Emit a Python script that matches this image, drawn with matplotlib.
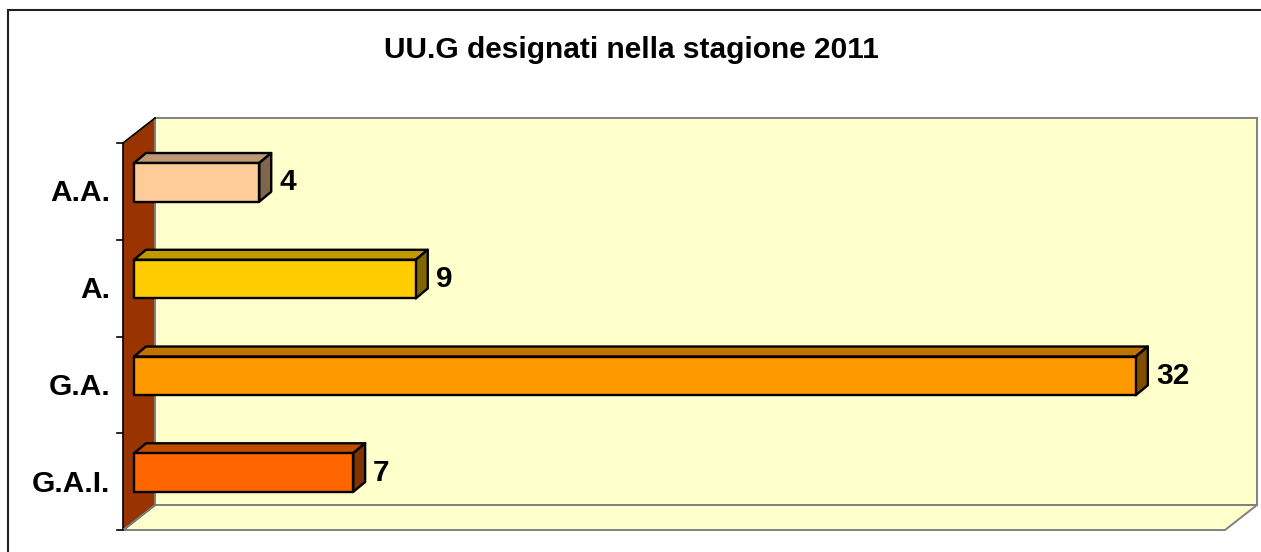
import matplotlib
matplotlib.use('Agg')
import matplotlib.pyplot as plt
from matplotlib.patches import Polygon, Rectangle
from matplotlib.colors import to_rgb

plt.rcParams['font.family'] = ['Liberation Sans', 'DejaVu Sans']

# dati del grafico (dall'alto verso il basso)
categorie = ['A.A.', 'A.', 'G.A.', 'G.A.I.']
valori = [4, 9, 32, 7]
colori = ['#FFCC99', '#FFCC00', '#FF9900', '#FF6600']
titolo = 'UU.G designati nella stagione 2011'

W, H = 1261, 552
fig = plt.figure(figsize=(W / 100, H / 100), dpi=100)
fig.patch.set_facecolor('white')

# piano frontale del grafico 3D (in pixel)
x0, x1, y0, y1 = 123, 1225, 143, 530
ax = fig.add_axes([x0 / W, (H - y1) / H, (x1 - x0) / W, (y1 - y0) / H])
XMAX = 35.2
n = len(categorie)
ax.set_xlim(0, XMAX)
ax.set_ylim(n - 0.5, -0.5)
ax.axis('off')

px_x = (x1 - x0) / XMAX
px_y = (y1 - y0) / n


def dx(p):
    return p / px_x


def dy(p):
    return p / px_y


# profondita' delle pareti e delle barre (pixel)
DX, DY = dx(32), dy(25)
FX, FY = dx(11), dy(9)
BX, BY = dx(23), dy(19)

top, bot = -0.5, n - 0.5
grigio = '#808080'
FS = 21.5
# parete di fondo
ax.add_patch(Polygon([(DX, top - DY), (XMAX + DX, top - DY), (XMAX + DX, bot - DY), (DX, bot - DY)],
                     closed=True, fc='#FFFFCC', ec=grigio, lw=1.4, clip_on=False, zorder=1))
# pavimento
ax.add_patch(Polygon([(0, bot), (XMAX, bot), (XMAX + DX, bot - DY), (DX, bot - DY)],
                     closed=True, fc='#FFFFCC', ec=grigio, lw=1.4, clip_on=False, zorder=1))
# parete laterale
ax.add_patch(Polygon([(0, top), (DX, top - DY), (DX, bot - DY), (0, bot)],
                     closed=True, fc='#993300', ec='none', clip_on=False, zorder=2))
ax.plot([DX, DX], [top - DY, bot - DY], color=grigio, lw=1.4, clip_on=False, zorder=2)
ax.plot([DX, 0, 0, DX], [top - DY, top, bot, bot - DY], color='black', lw=1.2, clip_on=False, zorder=3)
ax.plot([DX, 0], [bot - DY, bot], color=grigio, lw=1.4, clip_on=False, zorder=3)
for k in range(n + 1):
    yt = -0.5 + k
    ax.plot([-dx(6), 0], [yt, yt], color='black', lw=1.2, clip_on=False, zorder=3)

h = 0.2
for i, (cat, v, c) in enumerate(zip(categorie, valori, colori)):
    rgb = to_rgb(c)
    scuro1 = tuple(ch * 0.75 for ch in rgb)
    scuro2 = tuple(ch * 0.5 for ch in rgb)
    yt, yb = i - h, i + h
    front = [(FX, yt - FY), (v + FX, yt - FY), (v + FX, yb - FY), (FX, yb - FY)]
    topf = [(FX, yt - FY), (v + FX, yt - FY), (v + BX, yt - BY), (BX, yt - BY)]
    side = [(v + FX, yt - FY), (v + BX, yt - BY), (v + BX, yb - BY), (v + FX, yb - FY)]
    for poly, col in [(topf, scuro1), (side, scuro2), (front, rgb)]:
        ax.add_patch(Polygon(poly, closed=True, fc=col, ec='black', lw=1.7,
                             joinstyle='round', clip_on=False, zorder=5))
    ax.text(v + BX + dx(8), i - FY, str(v), ha='left', va='center',
            fontsize=FS, fontweight='bold', zorder=6)
    ax.text(-dx(13), i + dy(2), cat, ha='right', va='center',
            fontsize=FS, fontweight='bold', zorder=6)

fig.text(631 / W, 1 - 50 / H, titolo, ha='center', va='center',
         fontsize=FS, fontweight='bold')

# bordo esterno
fig.add_artist(Rectangle((8 / W, -0.1), 1.2, (H - 10) / H + 0.1, transform=fig.transFigure,
                         fill=False, ec='#202020', lw=1.5))

plt.savefig('out.png', dpi=100)
plt.close()
